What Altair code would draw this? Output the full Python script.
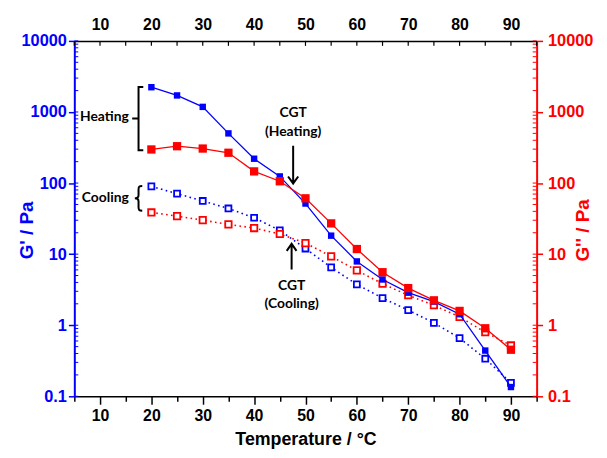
import altair as alt
import pandas as pd

# ---------------- data ----------------
temps = [20, 25, 30, 35, 40, 45, 50, 55, 60, 65, 70, 75, 80, 85, 90]
g1_heating = [2230, 1710, 1180, 500, 220, 124, 51.5, 18.2, 7.9, 4.4, 2.87, 2.15, 1.43, 0.44, 0.135]
g2_heating = [297, 330, 306, 267, 146, 106, 61, 27.1, 11.8, 5.57, 3.33, 2.24, 1.59, 0.906, 0.452]
g1_cooling = [89.7, 71, 56, 43.9, 32.5, 21.6, 12, 6.5, 3.75, 2.41, 1.63, 1.08, 0.66, 0.338, 0.155]
g2_cooling = [38.6, 34.3, 30.1, 26.2, 23.3, 19.2, 14.3, 9.3, 5.9, 3.83, 2.64, 1.91, 1.31, 0.796, 0.519]

x_tick_values = [5, 10, 15, 20, 25, 30, 35, 40, 45, 50, 55, 60, 65, 70, 75, 80, 85, 90, 95]
x_label_values = [10, 20, 30, 40, 50, 60, 70, 80, 90]
y_decades = [0.1, 1, 10, 100, 1000, 10000]
y_minor = [m * d for d in [0.1, 1, 10, 100, 1000] for m in range(1, 10)] + [10000]

# annotations
label_text = ["Heating", "Cooling"]
label_T = [15.6, 15.6]
label_v = [847, 61]
cgt_text = ["CGT", "(Heating)", "CGT", "(Cooling)"]
cgt_T = [47.6, 47.6, 47.3, 47.3]
cgt_v = [961, 524, 3.52, 1.97]

BLUE = "#0000ff"
RED = "#ff0000"
W, H = 467, 359
FONT = "Liberation Sans"
AFONT = "Lato"

xs = alt.Scale(domain=[5, 95], nice=False, zero=False)
ys = alt.Scale(type="log", domain=[0.1, 10000], nice=False)

left_axis = alt.Axis(
    orient="left", values=y_decades, format="~g", grid=False,
    labelColor=BLUE, labelFont=FONT, labelFontWeight="bold", labelFontSize=16.5, labelPadding=2,
    domainColor=BLUE, domainWidth=2, tickColor=BLUE, tickSize=6, tickWidth=1.5,
    title="G' / Pa", titleColor=BLUE, titleFont=FONT, titleFontWeight="bold", titleFontSize=19,
    titleAngle=270, titleX=-48, titleY=191, titleAlign="center", titleBaseline="middle",
)
right_axis = alt.Axis(
    orient="right", values=y_decades, format="~g", grid=False,
    labelColor=RED, labelFont=FONT, labelFontWeight="bold", labelFontSize=16.5, labelPadding=5,
    domainColor=RED, domainWidth=2, tickColor=RED, tickSize=6, tickWidth=1.5,
    title="G'' / Pa", titleColor=RED, titleFont=FONT, titleFontWeight="bold", titleFontSize=19,
    titleAngle=270, titleX=46, titleY=191, titleAlign="center", titleBaseline="middle",
)
bottom_axis = alt.Axis(
    orient="bottom", values=x_tick_values, grid=False,
    labelExpr="(datum.value % 10 == 0 && datum.value >= 10 && datum.value <= 90) ? datum.label : ''",
    labelColor="black", labelFont=FONT, labelFontWeight="bold", labelFontSize=16, labelPadding=3,
    domainColor="black", domainWidth=1.5, tickColor="black", tickWidth=1.5,
    tickSize={"condition": {"test": "datum.value % 10 == 0", "value": 8}, "value": 5},
    title="Temperature / °C", titleColor="black", titleFont=FONT, titleFontWeight="bold",
    titleFontSize=18, titleY=44, titleBaseline="middle",
)
top_axis = alt.Axis(
    orient="top", values=x_label_values, grid=False, ticks=False, tickSize=0,
    labelColor="black", labelFont=FONT, labelFontWeight="bold", labelFontSize=16, labelPadding=9,
    domainColor="black", domainWidth=1.5, title=None,
)


def series(vals, color, filled, dotted, size, ax_y=None, ax_x=None):
    df = pd.DataFrame({"T": temps, "v": vals})
    base = alt.Chart(df)
    line_kw = dict(color=color, strokeWidth=1.3)
    if dotted:
        line_kw["strokeDash"] = [1.6, 3.4]
        line_kw["strokeWidth"] = 1.6
    line = base.mark_line(**line_kw).encode(
        x=alt.X("T:Q", scale=xs, axis=ax_x),
        y=alt.Y("v:Q", scale=ys, axis=ax_y),
    )
    if filled:
        pts = base.mark_point(shape="square", size=size, filled=True, color=color, opacity=1)
    else:
        pts = base.mark_point(shape="square", size=size, filled=True, fill="white",
                              stroke=color, strokeWidth=1.8, opacity=1)
    pts = pts.encode(
        x=alt.X("T:Q", scale=xs, axis=None),
        y=alt.Y("v:Q", scale=ys, axis=None),
    )
    return [line, pts]


layers = []
layers += series(g1_cooling, BLUE, False, True, 36)
layers += series(g2_cooling, RED, False, True, 42)
layers += series(g1_heating, BLUE, True, False, 42, ax_y=left_axis, ax_x=bottom_axis)
layers += series(g2_heating, RED, True, False, 70, ax_y=right_axis, ax_x=top_axis)

# minor / inward ticks
ymin_df = pd.DataFrame({"v": y_minor})
left_minor = alt.Chart(ymin_df).mark_rule(color=BLUE, strokeWidth=1).encode(
    y=alt.Y("v:Q", scale=ys, axis=None), x=alt.value(0), x2=alt.value(4))
right_minor = alt.Chart(ymin_df).mark_rule(color=RED, strokeWidth=1).encode(
    y=alt.Y("v:Q", scale=ys, axis=None), x=alt.value(W), x2=alt.value(W - 4))
top_ticks = alt.Chart(pd.DataFrame({"T": x_tick_values})).mark_rule(color="black", strokeWidth=1.2).encode(
    x=alt.X("T:Q", scale=xs, axis=None), y=alt.value(0), y2=alt.value(5))
layers += [left_minor, right_minor, top_ticks]

# annotation texts
lab_df = pd.DataFrame({"T": label_T, "v": label_v, "t": label_text})
labels = alt.Chart(lab_df).mark_text(
    align="right", baseline="middle", font=AFONT, fontWeight="bold", fontSize=14, color="black"
).encode(x=alt.X("T:Q", scale=xs, axis=None), y=alt.Y("v:Q", scale=ys, axis=None), text="t:N")
cgt_df = pd.DataFrame({"T": cgt_T, "v": cgt_v, "t": cgt_text})
cgt = alt.Chart(cgt_df).mark_text(
    align="center", baseline="middle", font=AFONT, fontWeight="bold", fontSize=14, color="black"
).encode(x=alt.X("T:Q", scale=xs, axis=None), y=alt.Y("v:Q", scale=ys, axis=None), text="t:N")
layers += [labels, cgt]

# brackets and arrows drawn as symbol paths anchored at data positions
def symbol(T, v, path, size):
    return alt.Chart(pd.DataFrame({"T": [T], "v": [v]})).mark_point(
        shape=path, size=size, filled=False, color="black", strokeWidth=2, opacity=1
    ).encode(x=alt.X("T:Q", scale=xs, axis=None), y=alt.Y("v:Q", scale=ys, axis=None))

heating_bracket = symbol(17.5, 807, "M0.15,-1L0,-1L0,1L0.15,1M0,0L-0.2,0", 4096)
cooling_brace = symbol(
    17.5, 61,
    "M0.3,-1C0.05,-1 0,-0.95 0,-0.7L0,-0.25C0,-0.05 -0.1,0 -0.3,0C-0.1,0 0,0.05 0,0.25L0,0.7C0,0.95 0.05,1 0.3,1",
    625)
arrow_down = symbol(47.6, 181.6, "M0,-1L0,1M-0.27,0.63L0,1L0.27,0.63", 1444)
arrow_up = symbol(47.3, 9.2, "M0,1L0,-1M-0.38,-0.45L0,-1L0.38,-0.45", 676)
layers += [heating_bracket, cooling_brace, arrow_down, arrow_up]

chart = alt.layer(*layers).resolve_axis(x="independent", y="independent").properties(
    width=W, height=H,
    padding={"left": 67, "top": 31, "right": 63, "bottom": 52},
    autosize=alt.AutoSizeParams(type="none"),
).configure_view(stroke=None)

chart.save("out.html", embed_options={"renderer": "svg", "actions": False})
